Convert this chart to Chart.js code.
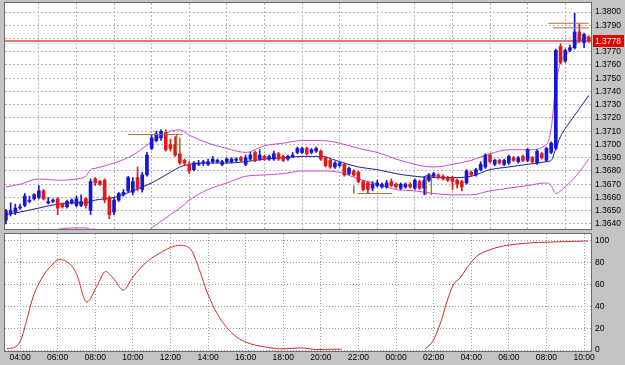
<!DOCTYPE html>
<html>
<head>
<meta charset="utf-8">
<script src="https://cdn.jsdelivr.net/npm/chart.js@4.4.1/dist/chart.umd.min.js"></script>
<style>
  html, body { margin: 0; padding: 0; background: #c3c3c3; }
  #wrap { position: relative; width: 625px; height: 365px; overflow: hidden; }
  canvas { position: absolute; left: 0; }
  #priceChart { top: 0; }
  #oscChart { top: 232px; }
</style>
</head>
<body>
<div id="wrap">
  <canvas id="priceChart" width="625" height="232"></canvas>
  <canvas id="oscChart" width="625" height="133"></canvas>
</div>
<script>
// Times are hours counted from 00:00 of the first day (25 = 01:00 next day)
// 15 minute candles, first one at 03:15
const firstCandle = 3.25;
const candleStep = 0.25;

const opens = [
  1.3643, 1.3648, 1.3649, 1.3652, 1.3654, 1.3657, 1.3659, 1.3660, 1.3665, 1.3656,
  1.3657, 1.3659, 1.3655, 1.3653, 1.3656, 1.3654, 1.3654, 1.3659, 1.3650, 1.3674,
  1.3672, 1.3673, 1.3660, 1.3649, 1.3658, 1.3662, 1.3665, 1.3664, 1.3675, 1.3666,
  1.3677, 1.3697, 1.3703, 1.3705, 1.3709, 1.3700, 1.3700, 1.3693, 1.3688, 1.3685,
  1.3681, 1.3685, 1.3686, 1.3685, 1.3687, 1.3687, 1.3685, 1.3687, 1.3687, 1.3688,
  1.3690, 1.3685, 1.3689, 1.3694, 1.3689, 1.3691, 1.3689, 1.3689, 1.3693, 1.3691,
  1.3689, 1.3691, 1.3694, 1.3694, 1.3697, 1.3694, 1.3695, 1.3695, 1.3690, 1.3688,
  1.3683, 1.3684, 1.3685, 1.3678, 1.3680, 1.3679, 1.3672, 1.3671, 1.3667, 1.3669,
  1.3668, 1.3668, 1.3672, 1.3670, 1.3667, 1.3668, 1.3670, 1.3667, 1.3672, 1.3667,
  1.3673, 1.3676, 1.3677, 1.3676, 1.3675, 1.3675, 1.3673, 1.3672, 1.3671, 1.3679,
  1.3677, 1.3681, 1.3683, 1.3692, 1.3685, 1.3688, 1.3685, 1.3686, 1.3690, 1.3687,
  1.3691, 1.3688, 1.3690, 1.3686, 1.3693, 1.3688, 1.3694, 1.3697, 1.3774, 1.3763,
  1.3771, 1.3773, 1.3785, 1.3777, 1.3781
];
const highs = [
  1.3651, 1.3656, 1.3655, 1.3655, 1.3663, 1.3661, 1.3663, 1.3669, 1.3666, 1.3660,
  1.3659, 1.3660, 1.3656, 1.3658, 1.3659, 1.3661, 1.3662, 1.3660, 1.3674, 1.3675,
  1.3673, 1.3674, 1.3661, 1.3660, 1.3664, 1.3666, 1.3676, 1.3675, 1.3683, 1.3679,
  1.3694, 1.3707, 1.3710, 1.3711, 1.3711, 1.3704, 1.3706, 1.3694, 1.3689, 1.3687,
  1.3687, 1.3688, 1.3688, 1.3689, 1.3691, 1.3689, 1.3688, 1.3690, 1.3690, 1.3690,
  1.3691, 1.3692, 1.3694, 1.3695, 1.3696, 1.3692, 1.3692, 1.3695, 1.3694, 1.3692,
  1.3692, 1.3694, 1.3698, 1.3698, 1.3698, 1.3697, 1.3698, 1.3696, 1.3691, 1.3689,
  1.3687, 1.3687, 1.3686, 1.3683, 1.3681, 1.3680, 1.3673, 1.3672, 1.3672, 1.3673,
  1.3671, 1.3673, 1.3674, 1.3671, 1.3671, 1.3671, 1.3671, 1.3674, 1.3673, 1.3676,
  1.3678, 1.3679, 1.3678, 1.3677, 1.3676, 1.3676, 1.3674, 1.3673, 1.3681, 1.3680,
  1.3682, 1.3687, 1.3693, 1.3693, 1.3689, 1.3689, 1.3689, 1.3692, 1.3691, 1.3691,
  1.3692, 1.3697, 1.3691, 1.3696, 1.3694, 1.3698, 1.3702, 1.3772, 1.3776, 1.3772,
  1.3775, 1.3799, 1.3791, 1.3784, 1.3782
];
const lows = [
  1.3640, 1.3646, 1.3647, 1.3651, 1.3653, 1.3656, 1.3658, 1.3659, 1.3658, 1.3655,
  1.3656, 1.3647, 1.3652, 1.3652, 1.3655, 1.3653, 1.3653, 1.3652, 1.3647, 1.3669,
  1.3669, 1.3656, 1.3644, 1.3647, 1.3657, 1.3661, 1.3664, 1.3662, 1.3665, 1.3664,
  1.3676, 1.3696, 1.3702, 1.3703, 1.3695, 1.3695, 1.3691, 1.3685, 1.3684, 1.3678,
  1.3680, 1.3684, 1.3684, 1.3684, 1.3686, 1.3686, 1.3684, 1.3686, 1.3686, 1.3687,
  1.3687, 1.3684, 1.3688, 1.3687, 1.3688, 1.3688, 1.3688, 1.3688, 1.3688, 1.3687,
  1.3688, 1.3690, 1.3693, 1.3693, 1.3692, 1.3693, 1.3694, 1.3688, 1.3683, 1.3682,
  1.3682, 1.3683, 1.3676, 1.3677, 1.3676, 1.3671, 1.3665, 1.3663, 1.3665, 1.3668,
  1.3667, 1.3667, 1.3668, 1.3667, 1.3666, 1.3667, 1.3667, 1.3666, 1.3666, 1.3662,
  1.3672, 1.3675, 1.3674, 1.3673, 1.3672, 1.3666, 1.3667, 1.3665, 1.3670, 1.3676,
  1.3676, 1.3680, 1.3682, 1.3686, 1.3684, 1.3685, 1.3684, 1.3685, 1.3687, 1.3686,
  1.3687, 1.3687, 1.3686, 1.3685, 1.3689, 1.3687, 1.3693, 1.3696, 1.3761, 1.3762,
  1.3770, 1.3772, 1.3777, 1.3773, 1.3777
];
const closes = [
  1.3650, 1.3650, 1.3652, 1.3653, 1.3661, 1.3658, 1.3662, 1.3665, 1.3659, 1.3657,
  1.3658, 1.3652, 1.3653, 1.3657, 1.3658, 1.3659, 1.3657, 1.3654, 1.3672, 1.3671,
  1.3670, 1.3658, 1.3647, 1.3658, 1.3663, 1.3664, 1.3675, 1.3672, 1.3667, 1.3677,
  1.3692, 1.3705, 1.3708, 1.3710, 1.3696, 1.3697, 1.3692, 1.3686, 1.3686, 1.3680,
  1.3686, 1.3686, 1.3687, 1.3687, 1.3689, 1.3688, 1.3687, 1.3689, 1.3689, 1.3689,
  1.3688, 1.3690, 1.3692, 1.3688, 1.3692, 1.3689, 1.3691, 1.3693, 1.3689, 1.3688,
  1.3691, 1.3692, 1.3697, 1.3697, 1.3693, 1.3696, 1.3697, 1.3689, 1.3684, 1.3683,
  1.3686, 1.3686, 1.3677, 1.3682, 1.3677, 1.3672, 1.3666, 1.3666, 1.3670, 1.3671,
  1.3670, 1.3671, 1.3669, 1.3668, 1.3670, 1.3670, 1.3668, 1.3673, 1.3667, 1.3673,
  1.3677, 1.3678, 1.3675, 1.3674, 1.3673, 1.3672, 1.3670, 1.3668, 1.3680, 1.3677,
  1.3681, 1.3685, 1.3692, 1.3687, 1.3688, 1.3686, 1.3688, 1.3691, 1.3688, 1.3690,
  1.3688, 1.3696, 1.3687, 1.3695, 1.3690, 1.3697, 1.3701, 1.3771, 1.3762, 1.3771,
  1.3773, 1.3785, 1.3778, 1.3783, 1.3778
];

// Bollinger bands
const bandTimes = [3.25, 4, 5, 6, 7, 7.5, 7.75, 8, 9, 10, 11, 12, 12.5, 13, 14, 15, 16, 17, 18, 19,
  20, 21, 22, 23, 24, 25, 26, 27, 28, 29, 30, 31, 32, 32.25, 32.5, 32.75, 33, 33.5, 34, 34.25];
const upperBand = [1.3668, 1.3670, 1.3674, 1.3673, 1.3674, 1.3676, 1.3681, 1.3682, 1.3686, 1.3692,
  1.3702, 1.3710, 1.3711, 1.3707, 1.3701, 1.3697, 1.3694, 1.3699, 1.3701, 1.3703,
  1.3703, 1.3701, 1.3697, 1.3694, 1.3689, 1.3685, 1.3683, 1.3685, 1.3688, 1.3693,
  1.3696, 1.3696, 1.3700, 1.3712, 1.3745, 1.3762, 1.3767, 1.3775, 1.3780, 1.3782];
const middleBand = [1.3647, 1.3649, 1.3652, 1.3655, 1.3656, 1.3656, 1.3657, 1.3658, 1.3660, 1.3665,
  1.3671, 1.3679, 1.3683, 1.3685, 1.3686, 1.3686, 1.3687, 1.3689, 1.3690, 1.3691,
  1.3691, 1.3687, 1.3683, 1.3681, 1.3678, 1.3676, 1.3675, 1.3675, 1.3676, 1.3681,
  1.3683, 1.3685, 1.3687, 1.3688, 1.3697, 1.3706, 1.3712, 1.3722, 1.3732, 1.3737];
const lowerBand = [1.3626, 1.3628, 1.3632, 1.3636, 1.3637, 1.3637, 1.3636, 1.3636, 1.3628, 1.3627,
  1.3637, 1.3647, 1.3652, 1.3658, 1.3666, 1.3671, 1.3676, 1.3677, 1.3678, 1.3680,
  1.3680, 1.3679, 1.3674, 1.3670, 1.3666, 1.3665, 1.3663, 1.3662, 1.3662, 1.3665,
  1.3667, 1.3669, 1.3671, 1.3669, 1.3663, 1.3665, 1.3668, 1.3675, 1.3684, 1.3689];

// fractal / level markers: [t1, price1, t2, price2]
const levelLines = [
  [9.75, 1.37075, 12.65, 1.37075],
  [12.33, 1.37075, 12.33, 1.3694],
  [12.5, 1.3705, 12.5, 1.3693],
  [21.75, 1.3669, 21.75, 1.3663],
  [21.95, 1.3663, 23.8, 1.3663],
  [25.6, 1.3677, 25.6, 1.3662],
  [25.88, 1.3677, 25.88, 1.3662],
  [32.1, 1.37915, 34.25, 1.37915],
  [32.35, 1.3788, 34.25, 1.3788]
];

const lastPrice = 1.3778;

// lower panel oscillator
const oscTimes = [3.3, 3.85, 4.1, 4.35, 4.7, 5.2, 5.75, 6.05, 6.65, 7.0, 7.55, 8.1, 8.55, 8.95, 9.5,
  10.0, 10.75, 11.45, 12.0, 12.5, 13.05, 13.55, 13.95, 14.5, 15.3, 16.05, 17.15, 18.0, 18.9, 19.8, 21.1,
  23.3, 25.55, 25.95, 26.35, 26.7, 27.05, 27.4, 27.8, 28.3, 29.0, 29.9, 30.95, 32.2, 34.2];
const oscValues = [1, 4, 12, 27, 49, 67, 79, 83, 79, 70, 44, 59, 72, 66, 55,
  67, 81, 89, 94, 96, 93, 73, 53, 33, 15, 7, 2.5, 1, 2, 0.5, 0.8,
  null, 1, 8, 24, 44, 60, 66, 76, 86, 92, 96, 98, 99, 100];

const hourTicks = [4, 6, 8, 10, 12, 14, 16, 18, 20, 22, 24, 26, 28, 30, 32, 34];
const priceTicks = [1.364, 1.365, 1.366, 1.367, 1.368, 1.369, 1.370, 1.371, 1.372,
  1.373, 1.374, 1.375, 1.376, 1.377, 1.378, 1.379, 1.380];
const oscTicks = [0, 20, 40, 60, 80, 100];

const upColor = '#1616d6';
const downColor = '#e01a1a';
const bandColor = '#d447d4';
const midColor = '#1e1e96';
const levelColor = '#a8733f';
const gridColor = '#b4b4b4';
const tickFont = { family: 'Liberation Sans, Arial, sans-serif', size: 8.5 };

const candleTimes = opens.map((_, i) => firstCandle + i * candleStep);
const candleColors = opens.map((o, i) => closes[i] >= o ? upColor : downColor);

function hourLabel(h) {
  return String(h % 24).padStart(2, '0') + ':00';
}

// keep the plot area where the layout padding puts it (no room for label overflow)
function noOverflow(s) {
  s.paddingTop = 0;
  s.paddingBottom = 0;
  s.paddingLeft = 0;
  s.paddingRight = 0;
}

// white plot area + frame around it
const panelFrame = {
  id: 'panelFrame',
  beforeDraw(chart) {
    const { ctx, chartArea: a } = chart;
    ctx.save();
    ctx.fillStyle = '#ffffff';
    ctx.fillRect(a.left, a.top, a.right - a.left, a.bottom - a.top);
    ctx.restore();
  },
  afterDraw(chart) {
    const { ctx, chartArea: a } = chart;
    ctx.save();
    ctx.strokeStyle = '#6c6c6c';
    ctx.lineWidth = 1;
    ctx.strokeRect(a.left - 0.5, a.top - 0.5, a.right - a.left + 1, a.bottom - a.top + 1);
    ctx.restore();
  }
};

// current price line and its red box on the axis
const priceMarker = {
  id: 'priceMarker',
  beforeDatasetsDraw(chart) {
    const { ctx, chartArea: a } = chart;
    const y = Math.round(chart.scales.y.getPixelForValue(lastPrice));
    ctx.save();
    ctx.strokeStyle = '#d6f2f4';
    ctx.lineWidth = 1;
    ctx.beginPath();
    ctx.moveTo(a.left, y + 2.5);
    ctx.lineTo(a.right, y + 2.5);
    ctx.stroke();
    ctx.strokeStyle = '#ef7474';
    ctx.lineWidth = 2;
    ctx.beginPath();
    ctx.moveTo(a.left, y);
    ctx.lineTo(a.right, y);
    ctx.stroke();
    ctx.restore();
  },
  afterDraw(chart) {
    const { ctx, chartArea: a } = chart;
    const y = Math.round(chart.scales.y.getPixelForValue(lastPrice));
    ctx.save();
    ctx.fillStyle = '#e20000';
    ctx.fillRect(a.right + 2, y - 6, 31, 12);
    ctx.fillStyle = '#ffffff';
    ctx.font = '8.5px Liberation Sans, Arial, sans-serif';
    ctx.textBaseline = 'middle';
    ctx.fillText(lastPrice.toFixed(4), a.right + 4, y + 0.5);
    ctx.restore();
  }
};

const lineStyle = { borderWidth: 1, pointRadius: 0, fill: false, cubicInterpolationMode: 'monotone' };

const datasets = [
  {
    label: 'body',
    data: candleTimes.map((t, i) => ({ x: t, y: [opens[i], closes[i]] })),
    backgroundColor: candleColors,
    barThickness: 3,
    minBarLength: 1,
    grouped: false,
    order: 1
  },
  {
    label: 'wick',
    data: candleTimes.map((t, i) => ({ x: t, y: [lows[i], highs[i]] })),
    backgroundColor: candleColors,
    barThickness: 1,
    grouped: false,
    order: 2
  },
  Object.assign({ type: 'line', label: 'upper', borderColor: bandColor, order: 3,
    data: bandTimes.map((t, i) => ({ x: t, y: upperBand[i] })) }, lineStyle),
  Object.assign({ type: 'line', label: 'middle', borderColor: midColor, order: 3,
    data: bandTimes.map((t, i) => ({ x: t, y: middleBand[i] })) }, lineStyle),
  Object.assign({ type: 'line', label: 'lower', borderColor: bandColor, order: 3,
    data: bandTimes.map((t, i) => ({ x: t, y: lowerBand[i] })) }, lineStyle)
];
levelLines.forEach((s, i) => {
  datasets.push({
    type: 'line', label: 'level' + i, borderColor: levelColor, borderWidth: 1, pointRadius: 0, order: 0,
    data: [{ x: s[0], y: s[1] }, { x: s[2], y: s[3] }]
  });
});

new Chart(document.getElementById('priceChart'), {
  type: 'bar',
  data: { datasets: datasets },
  options: {
    responsive: false,
    animation: false,
    devicePixelRatio: 1,
    layout: { padding: { left: 5, top: 3, right: 0, bottom: 3 } },
    plugins: { legend: { display: false }, tooltip: { enabled: false } },
    scales: {
      x: {
        type: 'linear', min: 3.2, max: 34.37, offset: false,
        afterBuildTicks: s => { s.ticks = hourTicks.map(v => ({ value: v })); },
        afterFit: s => { s.height = 0; noOverflow(s); },
        ticks: { display: false },
        grid: { color: gridColor, drawTicks: false },
        border: { display: false, dash: [2, 2] }
      },
      y: {
        position: 'right', min: 1.36362, max: 1.38068,
        afterBuildTicks: s => { s.ticks = priceTicks.map(v => ({ value: v })); },
        afterFit: s => { s.width = 34; noOverflow(s); },
        ticks: {
          color: '#000', font: tickFont, padding: 4, autoSkip: false,
          callback: v => Math.abs(v - lastPrice) < 0.0006 ? '' : v.toFixed(4)
        },
        grid: { color: gridColor, drawTicks: false },
        border: { display: false, dash: [2, 2] }
      }
    }
  },
  plugins: [panelFrame, priceMarker]
});

new Chart(document.getElementById('oscChart'), {
  type: 'line',
  data: {
    datasets: [{
      label: 'osc',
      data: oscTimes.map((t, i) => ({ x: t, y: oscValues[i] })),
      borderColor: '#d42a2a', borderWidth: 1, pointRadius: 0, spanGaps: false,
      cubicInterpolationMode: 'monotone'
    }]
  },
  options: {
    responsive: false,
    animation: false,
    devicePixelRatio: 1,
    layout: { padding: { left: 5, top: 2, right: 0, bottom: 0 } },
    plugins: { legend: { display: false }, tooltip: { enabled: false } },
    scales: {
      x: {
        type: 'linear', min: 3.2, max: 34.37,
        afterBuildTicks: s => { s.ticks = hourTicks.map(v => ({ value: v })); },
        afterFit: s => { s.height = 14; noOverflow(s); },
        ticks: { color: '#000', font: tickFont, padding: 2, maxRotation: 0, autoSkip: false,
          callback: v => hourLabel(v) },
        grid: { color: '#9a9a9a', drawTicks: false },
        border: { display: false, dash: [1, 2] }
      },
      y: {
        position: 'right', min: -0.9, max: 106.4,
        afterBuildTicks: s => { s.ticks = oscTicks.map(v => ({ value: v })); },
        afterFit: s => { s.width = 34; noOverflow(s); },
        ticks: { color: '#000', font: tickFont, padding: 4, autoSkip: false },
        grid: { color: '#9a9a9a', drawTicks: false },
        border: { display: false, dash: [1, 2] }
      }
    }
  },
  plugins: [panelFrame]
});
</script>
</body>
</html>
